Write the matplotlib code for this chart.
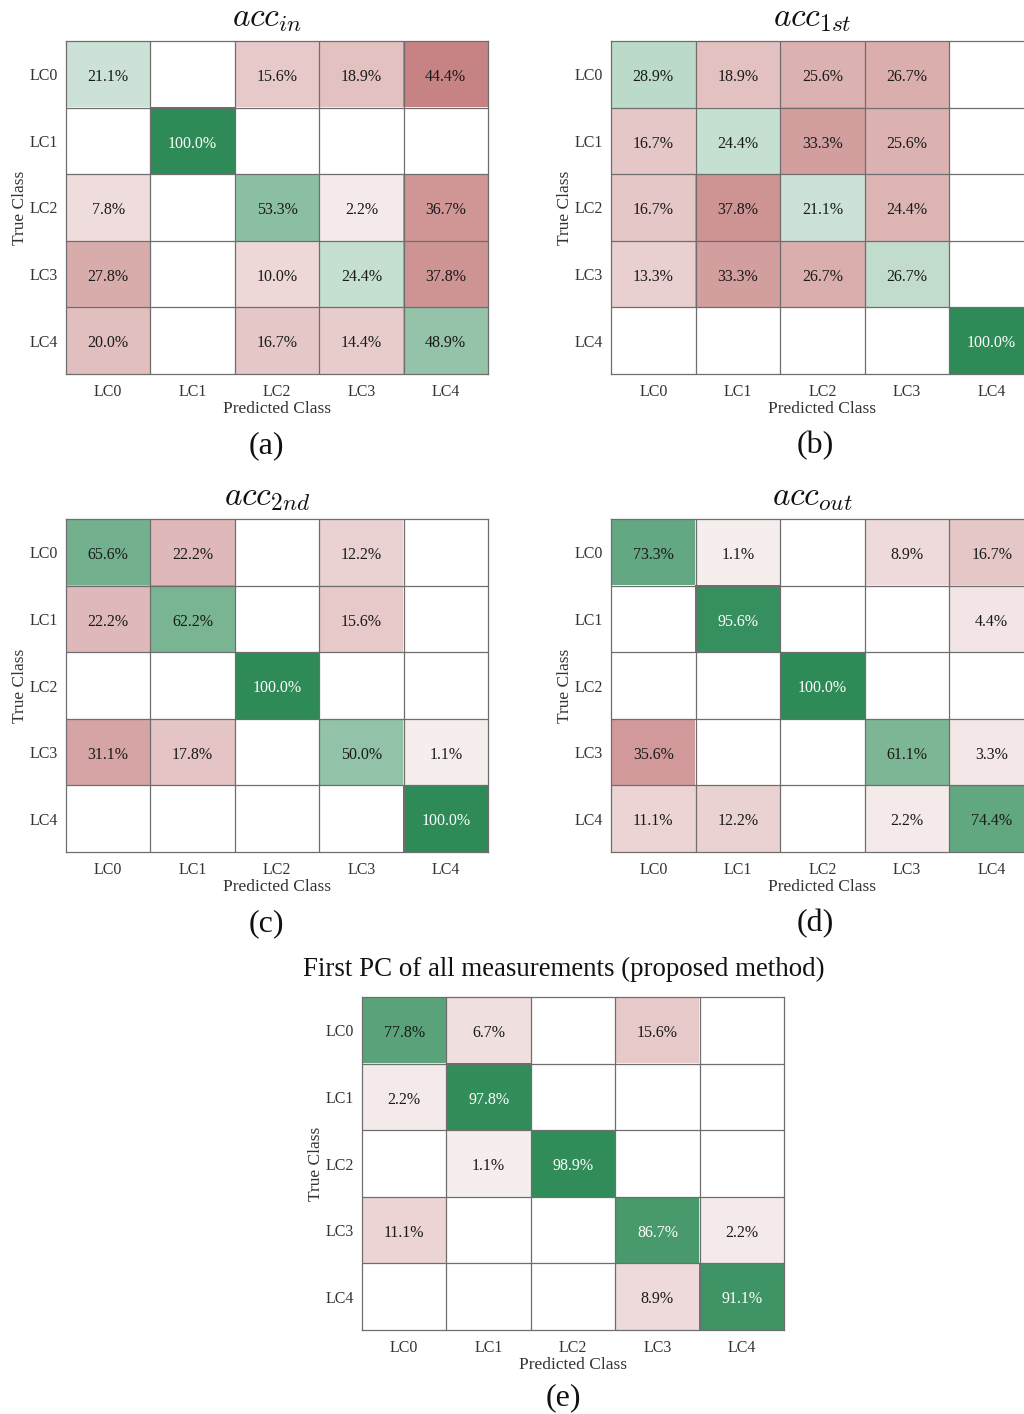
import numpy as np
import matplotlib
matplotlib.use("Agg")
import matplotlib.pyplot as plt

plt.rcParams['font.family'] = ['Liberation Serif', 'DejaVu Serif']
plt.rcParams['mathtext.fontset'] = 'cm'

classes = ['LC0', 'LC1', 'LC2', 'LC3', 'LC4']

acc_in = [[21.1, 0, 15.6, 18.9, 44.4],
          [0, 100.0, 0, 0, 0],
          [7.8, 0, 53.3, 2.2, 36.7],
          [27.8, 0, 10.0, 24.4, 37.8],
          [20.0, 0, 16.7, 14.4, 48.9]]

acc_1st = [[28.9, 18.9, 25.6, 26.7, 0],
           [16.7, 24.4, 33.3, 25.6, 0],
           [16.7, 37.8, 21.1, 24.4, 0],
           [13.3, 33.3, 26.7, 26.7, 0],
           [0, 0, 0, 0, 100.0]]

acc_2nd = [[65.6, 22.2, 0, 12.2, 0],
           [22.2, 62.2, 0, 15.6, 0],
           [0, 0, 100.0, 0, 0],
           [31.1, 17.8, 0, 50.0, 1.1],
           [0, 0, 0, 0, 100.0]]

acc_out = [[73.3, 1.1, 0, 8.9, 16.7],
           [0, 95.6, 0, 0, 4.4],
           [0, 0, 100.0, 0, 0],
           [35.6, 0, 0, 61.1, 3.3],
           [11.1, 12.2, 0, 2.2, 74.4]]

proposed = [[77.8, 6.7, 0, 15.6, 0],
            [2.2, 97.8, 0, 0, 0],
            [0, 1.1, 98.9, 0, 0],
            [11.1, 0, 0, 86.7, 2.2],
            [0, 0, 0, 8.9, 91.1]]

GREEN = np.array([46, 139, 87]) / 255
RED = np.array([163, 50, 50]) / 255
GRID = '#6e6e6e'

W, H = 1024, 1414


def cell_color(v, diag):
    if v == 0:
        return np.ones(3)
    if diag:
        a = 0.04 + 0.96 * v / 100
        base = GREEN
    else:
        a = min(0.074 + 0.01185 * v, 1)
        base = RED
    return 1 - a * (1 - base)


def px_axes(fig, x0, y0, x1, y1):
    return fig.add_axes([x0 / W, 1 - y1 / H, (x1 - x0) / W, (y1 - y0) / H])


def draw_cm(ax, cm):
    cm = np.array(cm)
    n = len(classes)
    rgb = np.zeros((n, n, 3))
    for i in range(n):
        for j in range(n):
            rgb[i, j] = cell_color(cm[i, j], i == j)
    ax.imshow(rgb, aspect='auto', extent=(-0.5, n - 0.5, n - 0.5, -0.5),
              interpolation='nearest')
    for k in range(1, n):
        ax.axhline(k - 0.5, color=GRID, lw=0.9)
        ax.axvline(k - 0.5, color=GRID, lw=0.9)
    for i in range(n):
        for j in range(n):
            v = cm[i, j]
            if v == 0:
                continue
            col = 'white' if (i == j and v > 80) else '#1a1a1a'
            ax.text(j, i + 0.04, f'{v:.1f}%', ha='center', va='center',
                    fontsize=11.5, color=col)
    ax.set_xticks(range(n))
    ax.set_yticks(range(n))
    ax.set_xticklabels(classes, fontsize=11.5, color='#333333')
    ax.set_yticklabels(classes, fontsize=11.5, color='#333333')
    ax.tick_params(axis='x', length=0, pad=7)
    ax.tick_params(axis='y', length=0, pad=6)
    ax.set_xlabel('Predicted Class', fontsize=12.5, color='#333333', labelpad=1)
    ax.set_ylabel('True Class', fontsize=12.5, color='#333333', labelpad=1)
    for s in ax.spines.values():
        s.set_color(GRID)
        s.set_linewidth(0.9)


fig = plt.figure(figsize=(W / 100, H / 100), dpi=100)

panels = [
    (acc_in, (66, 41, 488, 374), r'$acc_{in}$', (267, 19), '(a)', (266, 446)),
    (acc_1st, (611, 41, 1034, 374), r'$acc_{1st}$', (812, 19), '(b)', (815, 446)),
    (acc_2nd, (66, 519, 488, 852), r'$acc_{2nd}$', (267, 498), '(c)', (266, 924)),
    (acc_out, (611, 519, 1034, 852), r'$acc_{out}$', (812, 498), '(d)', (815, 924)),
    (proposed, (362, 997, 784, 1330), 'First PC of all measurements (proposed method)',
     (564, 969), '(e)', (563, 1398)),
]

for cm, box, title, tpos, tag, tagpos in panels:
    ax = px_axes(fig, *box)
    draw_cm(ax, cm)
    fs = 24 if title.startswith('$') else 19.4
    fig.text(tpos[0] / W, 1 - tpos[1] / H, title, ha='center', va='center',
             fontsize=fs, color='#111111')
    fig.text(tagpos[0] / W, 1 - tagpos[1] / H, tag, ha='center', va='center',
             fontsize=23, color='#111111')

fig.savefig('out.png', dpi=100)
